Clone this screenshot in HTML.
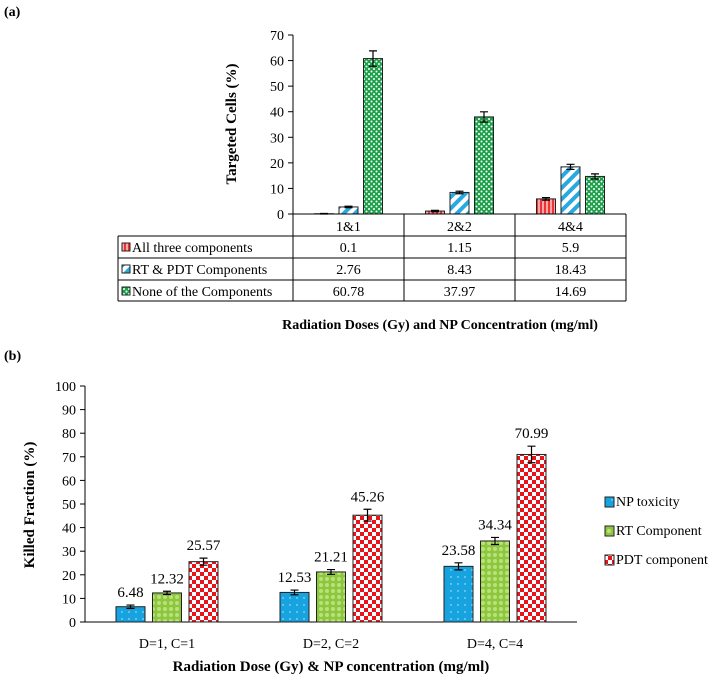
<!DOCTYPE html>
<html><head><meta charset="utf-8"><style>
body{margin:0;background:#fff;}
svg, svg text{font-family:"Liberation Serif","DejaVu Serif",serif !important;}
</style></head><body>
<svg width="727" height="678" viewBox="0 0 727 678" font-family="Liberation Serif, serif">
<defs>
<pattern id="pRed" width="4" height="4" patternUnits="userSpaceOnUse"><rect width="4" height="4" fill="#f7a7a7"/><rect width="2" height="4" fill="#e33"/></pattern>
<pattern id="pBlue" width="8" height="8" patternUnits="userSpaceOnUse" patternTransform="rotate(45)"><rect width="8" height="8" fill="#fff"/><rect width="4" height="8" fill="#29a9e1"/></pattern>
<pattern id="pGreen" width="5" height="5" patternUnits="userSpaceOnUse"><rect width="5" height="5" fill="#1ca04a"/><circle cx="1.5" cy="1.5" r="1" fill="#fff"/><circle cx="4" cy="4" r="1" fill="#fff"/></pattern>
<pattern id="pNP" width="7" height="7" patternUnits="userSpaceOnUse"><rect width="7" height="7" fill="#16a3e0"/><circle cx="3" cy="3" r="0.7" fill="#cdefff"/></pattern>
<pattern id="pRT" width="6" height="6" patternUnits="userSpaceOnUse"><rect width="6" height="6" fill="#8dc63f"/><circle cx="3" cy="3" r="2" fill="#b9e27a"/></pattern>
<pattern id="pPDT" width="8" height="8" patternUnits="userSpaceOnUse"><rect width="8" height="8" fill="#e8141b"/><rect width="4" height="4" fill="#fff"/><rect x="4" y="4" width="4" height="4" fill="#fff"/></pattern>
</defs>
<text x="4" y="16" font-size="14" font-weight="bold">(a)</text>
<text x="4" y="360" font-size="14" font-weight="bold">(b)</text>
<g id="chartA" font-family="Liberation Serif, serif"></g>
<g id="chartB" font-family="Liberation Serif, serif"></g>
</svg>
<script>
const NS="http://www.w3.org/2000/svg";
function mk(parent,tag,attrs,text){const e=document.createElementNS(NS,tag);for(const k in attrs)e.setAttribute(k,attrs[k]);if(text!==undefined)e.textContent=text;parent.appendChild(e);return e;}

// ---------- Chart A data ----------
const aCategories=["1&1","2&2","4&4"];
const aSeriesNames=["All three components","RT & PDT Components","None of the Components"];
const aAll=[0.1,1.15,5.9];
const aRtPdt=[2.76,8.43,18.43];
const aNone=[60.78,37.97,14.69];
const aErrAll=[0.1,0.3,0.5];
const aErrRtPdt=[0.3,0.5,1.0];
const aErrNone=[3.0,2.0,1.0];
const aTicks=[0,10,20,30,40,50,60,70];

// ---------- Chart B data ----------
const bCategories=["D=1, C=1","D=2, C=2","D=4, C=4"];
const bSeriesNames=["NP toxicity","RT Component","PDT component"];
const bNP=[6.48,12.53,23.58];
const bRT=[12.32,21.21,34.34];
const bPDT=[25.57,45.26,70.99];
const bErrNP=[0.7,1.0,1.5];
const bErrRT=[0.7,1.0,1.5];
const bErrPDT=[1.5,2.5,3.5];
const bTicks=[0,10,20,30,40,50,60,70,80,90,100];

// ---------- Chart A ----------
(function(){
const g=document.getElementById('chartA');
const x0=293,x1=626,y0=214,yTop=35,maxV=70;
const yA=v=>y0-(v/maxV)*(y0-yTop);
const gw=(x1-x0)/aCategories.length;
const xC=i=>x0+gw*(i+0.5);
const bw=19,step=24.5;
const fills=["url(#pRed)","url(#pBlue)","url(#pGreen)"];
const series=[aAll,aRtPdt,aNone],errs=[aErrAll,aErrRtPdt,aErrNone];
let ax=mk(g,'line',{x1:x0,y1:yTop,x2:x0,y2:y0,stroke:'#000'});


aTicks.forEach(t=>{
 const y=yA(t);
 const tl=mk(g,'line',{x1:x0-5,y1:y,x2:x0,y2:y,stroke:'#000'});
 
 
 const tx=mk(g,'text',{x:x0-9,y:y+5,'font-size':14,'text-anchor':'end'},t);
 
 
});
series.forEach((s,si)=>{
 s.forEach((v,i)=>{
  const cx=xC(i)+(si-1)*step;
  const r=mk(g,'rect',{x:cx-bw/2,y:yA(v),width:bw,height:y0-yA(v),fill:fills[si],stroke:'#222','stroke-width':1});
  
  
  const e=errs[si][i],yt=yA(v+e),yb=yA(Math.max(0,v-e));
  const eb=mk(g,'path',{d:`M${cx},${yt}V${yb}M${cx-4},${yt}H${cx+4}M${cx-4},${yb}H${cx+4}`,stroke:'#000','stroke-width':1.2,fill:'none'});
  
  
 });
});
const tl=118,rows=[214,236,258,280,301];
mk(g,'line',{x1:x0,y1:y0,x2:x1,y2:y0,stroke:'#000'});
[236,258,280,301].forEach(y=>mk(g,'line',{x1:tl,y1:y,x2:x1,y2:y,stroke:'#000'}));
mk(g,'line',{x1:tl,y1:236,x2:tl,y2:301,stroke:'#000'});
for(let i=0;i<=aCategories.length;i++){mk(g,'line',{x1:x0+gw*i,y1:y0,x2:x0+gw*i,y2:301,stroke:'#000'});}
aCategories.forEach((c,i)=>{const t=mk(g,'text',{x:xC(i),y:231,'font-size':14,'text-anchor':'middle'},c);
 
 });
aSeriesNames.forEach((n,si)=>{
 const ry=rows[si+1];
 const k=mk(g,'rect',{x:122,y:ry+7,width:8,height:8,fill:fills[si],stroke:'#222'});
 
 
 const t=mk(g,'text',{x:132,y:ry+16,'font-size':14},n);
 
 
 series[si].forEach((v,i)=>{const c=mk(g,'text',{x:xC(i),y:ry+16,'font-size':14,'text-anchor':'middle'},String(v));
  
  });
});
const yt=mk(g,'text',{x:0,y:0,'font-size':15,'font-weight':'bold','text-anchor':'middle',transform:'translate(236,124) rotate(-90)'},'Targeted Cells (%)');


const xt=mk(g,'text',{x:440,y:329,'font-size':14,'font-weight':'bold','text-anchor':'middle'},'Radiation Doses (Gy) and NP Concentration (mg/ml)');


})();

// ---------- Chart B ----------
(function(){
const g=document.getElementById('chartB');
const x0=85,x1=577,y0=622,yTop=386,maxV=100;
const yB=v=>y0-(v/maxV)*(y0-yTop);
const gw=(x1-x0)/bCategories.length;
const xC=i=>x0+gw*(i+0.5);
const bw=29,step=36.5;
const fills=["url(#pNP)","url(#pRT)","url(#pPDT)"];
const series=[bNP,bRT,bPDT],errs=[bErrNP,bErrRT,bErrPDT];
mk(g,'line',{x1:x0,y1:yTop,x2:x0,y2:y0,stroke:'#000'});
mk(g,'line',{x1:x0,y1:y0,x2:x1,y2:y0,stroke:'#000'});
bTicks.forEach(t=>{
 const y=yB(t);
 mk(g,'line',{x1:x0-5,y1:y,x2:x0,y2:y,stroke:'#000'});
 const tx=mk(g,'text',{x:x0-9,y:y+5,'font-size':14,'text-anchor':'end'},t);
 
 
});
series.forEach((s,si)=>{
 s.forEach((v,i)=>{
  const cx=xC(i)+(si-1)*step;
  const r=mk(g,'rect',{x:cx-bw/2,y:yB(v),width:bw,height:y0-yB(v),fill:fills[si],stroke:'#222','stroke-width':1});
  
  
  const e=errs[si][i],yt=yB(v+e),yb=yB(v-e);
  mk(g,'path',{d:`M${cx},${yt}V${yb}M${cx-4},${yt}H${cx+4}M${cx-4},${yb}H${cx+4}`,stroke:'#000','stroke-width':1.2,fill:'none'});
  const lb=mk(g,'text',{x:cx,y:yB(v+e)-8,'font-size':15,'text-anchor':'middle'},v.toFixed(2));
  
  
 });
});
bCategories.forEach((c,i)=>{const t=mk(g,'text',{x:xC(i),y:648,'font-size':14,'text-anchor':'middle'},c);
 
 });
bSeriesNames.forEach((n,si)=>{
 const ly=506+si*29;
 const k=mk(g,'rect',{x:605,y:ly-9,width:9,height:10,fill:fills[si],stroke:'#222'});
 
 
 const t=mk(g,'text',{x:616,y:ly,'font-size':14},n);
 
 
});
const yt=mk(g,'text',{x:0,y:0,'font-size':15,'font-weight':'bold','text-anchor':'middle',transform:'translate(34,505) rotate(-90)'},'Killed Fraction (%)');


const xt=mk(g,'text',{x:331,y:671,'font-size':15,'font-weight':'bold','text-anchor':'middle'},'Radiation Dose (Gy) & NP concentration (mg/ml)');


})();
</script>
</body></html>
